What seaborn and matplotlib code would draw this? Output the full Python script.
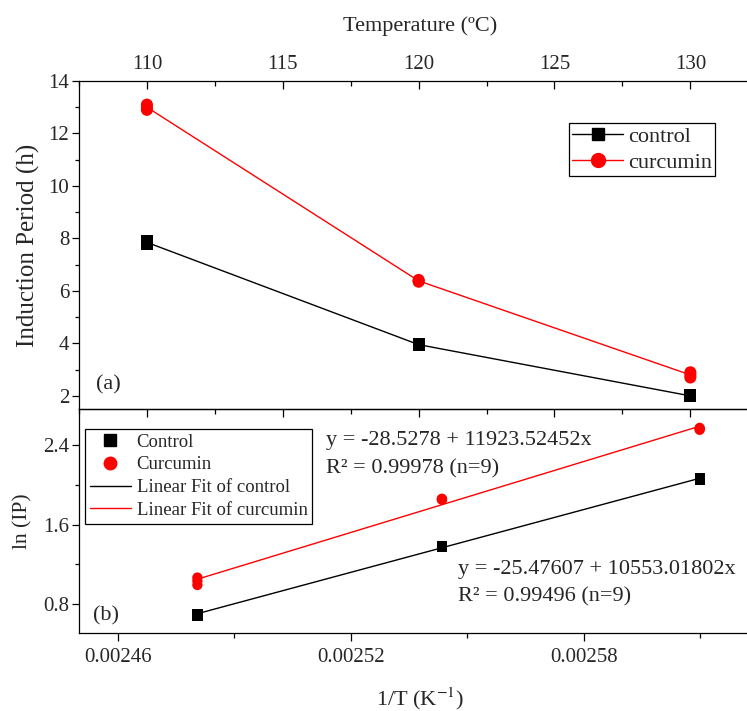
import matplotlib
matplotlib.use("Agg")
import matplotlib.pyplot as plt
import seaborn as sns
import pandas as pd
from matplotlib.ticker import MultipleLocator, FixedLocator, FormatStrFormatter
from matplotlib.lines import Line2D

# ---------------- data ----------------
temperature_c = [110, 110, 110, 120, 120, 120, 130, 130, 130]
control_ip = [7.90, 7.85, 7.80, 3.98, 3.95, 3.93, 2.02, 2.00, 1.98]
curcumin_ip = [13.10, 13.00, 12.90, 6.42, 6.38, 6.35, 2.90, 2.80, 2.70]

inv_temp = [0.0026099, 0.0026099, 0.0026099, 0.0025435, 0.0025435, 0.0025435,
            0.0024805, 0.0024805, 0.0024805]
control_ln = [2.07, 2.06, 2.05, 1.38, 1.37, 1.37, 0.70, 0.69, 0.68]
curcumin_ln = [2.575, 2.565, 2.555, 1.86, 1.855, 1.85, 1.065, 1.03, 0.99]

# linear fit coefficients (intercept, slope) as printed on the chart
fit_control = (-25.47607, 10553.01802)
fit_curcumin = (-28.5278, 11923.52452)

top_ticks = [110, 115, 120, 125, 130]
bottom_ticks = [0.00246, 0.00252, 0.00258]
bottom_minor = [0.00249, 0.00255, 0.00261]

# ---------------- style ----------------
sns.set_theme(style="white")
plt.rcParams["font.family"] = ["Liberation Serif", "DejaVu Serif"]
plt.rcParams["mathtext.fontset"] = "stix"
plt.rcParams["axes.edgecolor"] = "black"
plt.rcParams["axes.linewidth"] = 0.9

W, H = 747, 711
fig = plt.figure(figsize=(W / 100, H / 100), dpi=100)


def rect(l, t, r, b):
    return [l / W, 1 - b / H, (r - l) / W, (b - t) / H]


RIGHT = 761
ax1 = fig.add_axes(rect(79, 81, RIGHT, 409))
ax2 = fig.add_axes(rect(79, 409, RIGHT, 633))

colors = {"control": "black", "curcumin": "red"}
markers = {"control": "s", "curcumin": "o"}

TOP_XLIM = (107.5, 132.6)

# ---------------- top panel ----------------
df_top = pd.DataFrame({
    "T": temperature_c * 2,
    "IP": control_ip + curcumin_ip,
    "sample": ["control"] * len(control_ip) + ["curcumin"] * len(curcumin_ip),
})
sns.lineplot(data=df_top, x="T", y="IP", hue="sample", palette=colors,
             estimator="mean", errorbar=None, lw=1.0, ax=ax1, legend=False)
sns.scatterplot(data=df_top, x="T", y="IP", hue="sample", style="sample",
                palette=colors, markers=markers, s=75, linewidth=0,
                ax=ax1, legend=False, zorder=3)

ax1.set_xlim(*TOP_XLIM)
ax1.set_ylim(1.5, 14)
ax1.xaxis.tick_top()
ax1.xaxis.set_label_position("top")
ax1.xaxis.set_major_locator(FixedLocator(top_ticks))
ax1.xaxis.set_minor_locator(MultipleLocator(2.5))
ax1.yaxis.set_major_locator(MultipleLocator(2))
ax1.yaxis.set_minor_locator(MultipleLocator(1))
ax1.tick_params(axis="x", which="both", top=True, bottom=False, direction="in",
                labeltop=True, labelbottom=False, labelsize=15, pad=5, color="black")
ax1.tick_params(axis="x", which="major", length=6, width=0.9)
ax1.tick_params(axis="x", which="minor", length=3.5, width=0.9)
ax1.tick_params(axis="y", which="both", left=True, right=False, direction="out",
                labelsize=15, pad=2, color="black")
ax1.tick_params(axis="y", which="major", length=5, width=0.9)
ax1.tick_params(axis="y", which="minor", length=3, width=0.9)
ax1.spines["right"].set_visible(False)
ax1.spines["bottom"].set_visible(False)

ax1.set_xlabel("Temperature (ºC)", fontsize=16, labelpad=17)
ax1.set_ylabel("Induction Period (h)", fontsize=18, labelpad=6)
ax1.text(0.025, 0.075, "(a)", transform=ax1.transAxes, fontsize=16, va="center")

h1 = [Line2D([], [], color="black", lw=1, marker="s", markersize=9),
      Line2D([], [], color="red", lw=1, marker="o", markersize=10)]
leg1 = ax1.legend(h1, ["control", "curcumin"], loc="upper left",
                  bbox_to_anchor=(0.7335 * 668 / (RIGHT - 79), 0.872),
                  borderaxespad=0, fontsize=16,
                  frameon=True, fancybox=False, framealpha=1, edgecolor="black",
                  handlelength=2.3, handletextpad=0.2, borderpad=0.15,
                  labelspacing=0.25)
leg1.get_frame().set_linewidth(0.9)

# ---------------- bottom panel ----------------
df_bot = pd.DataFrame({
    "invT": inv_temp * 2,
    "lnIP": control_ln + curcumin_ln,
    "sample": ["control"] * len(control_ln) + ["curcumin"] * len(curcumin_ln),
})
sns.scatterplot(data=df_bot, x="invT", y="lnIP", hue="sample", style="sample",
                palette=colors, markers=markers, s=55, linewidth=0,
                ax=ax2, legend=False, zorder=3)

for name, (a, b) in (("control", fit_control), ("curcumin", fit_curcumin)):
    sub = df_bot[df_bot["sample"] == name]
    xs = [sub["invT"].min(), sub["invT"].max()]
    fit_df = pd.DataFrame({"invT": xs, "lnIP": [a + b * x for x in xs]})
    sns.lineplot(data=fit_df, x="invT", y="lnIP", color=colors[name], lw=1.0,
                 ax=ax2, legend=False)

ax2.set_xlim(0.00245, 0.0026257)
ax2.set_ylim(0.506, 2.765)
ax2.xaxis.set_major_locator(FixedLocator(bottom_ticks))
ax2.xaxis.set_minor_locator(FixedLocator(bottom_minor))
ax2.xaxis.set_major_formatter(FormatStrFormatter("%.5f"))
ax2.yaxis.set_major_locator(MultipleLocator(0.8))
ax2.yaxis.set_minor_locator(MultipleLocator(0.4))
ax2.yaxis.set_major_formatter(FormatStrFormatter("%.1f"))
ax2.tick_params(axis="both", which="both", direction="out", bottom=True, left=True,
                top=False, right=False, labelsize=15, color="black")
ax2.tick_params(axis="x", which="major", length=6, width=0.9, pad=5)
ax2.tick_params(axis="x", which="minor", length=3.5, width=0.9)
ax2.tick_params(axis="y", which="major", length=5, width=0.9, pad=2)
ax2.tick_params(axis="y", which="minor", length=3, width=0.9)
ax2.spines["right"].set_visible(False)

# temperature ticks mirrored on the shared border (pointing down into panel b)
ax2t = ax2.twiny()
ax2t.set_xlim(*TOP_XLIM)
ax2t.xaxis.set_major_locator(FixedLocator(top_ticks))
ax2t.xaxis.set_minor_locator(MultipleLocator(2.5))
ax2t.tick_params(axis="x", which="both", direction="in", top=True, bottom=False,
                 labeltop=False, labelbottom=False, color="black")
ax2t.tick_params(axis="x", which="major", length=6, width=0.9)
ax2t.tick_params(axis="x", which="minor", length=3.5, width=0.9)
for s in ("right", "left", "bottom"):
    ax2t.spines[s].set_visible(False)
ax2t.grid(False)

ax2.set_xlabel("1/T (K$^{-1}$)", fontsize=16, labelpad=13)
ax2.set_ylabel("ln (IP)", fontsize=15.5, labelpad=8)
ax2.text(0.02, 0.075, "(b)", transform=ax2.transAxes, fontsize=16, va="center")

ax2.text(0.0025137, 2.45, "y = -28.5278 + 11923.52452x", fontsize=16, va="center")
ax2.text(0.0025137, 2.157, "R² = 0.99978 (n=9)", fontsize=16, va="center")
ax2.text(0.0025477, 1.144, "y = -25.47607 + 10553.01802x", fontsize=16, va="center")
ax2.text(0.0025477, 0.871, "R² = 0.99496 (n=9)", fontsize=16, va="center")

h2 = [Line2D([], [], color="black", lw=0, marker="s", markersize=8),
      Line2D([], [], color="red", lw=0, marker="o", markersize=9),
      Line2D([], [], color="black", lw=1),
      Line2D([], [], color="red", lw=1)]
leg2 = ax2.legend(h2, ["Control", "Curcumin", "Linear Fit of control",
                       "Linear Fit of curcumin"], loc="upper left",
                  bbox_to_anchor=(0.009 * 668 / (RIGHT - 79), 0.911),
                  borderaxespad=0, fontsize=13.5,
                  frameon=True, fancybox=False, framealpha=1, edgecolor="black",
                  handlelength=2.2, handletextpad=0.3, borderpad=0.25,
                  labelspacing=0.3)
leg2.get_frame().set_linewidth(0.9)

fig.savefig("out.png", dpi=100)
